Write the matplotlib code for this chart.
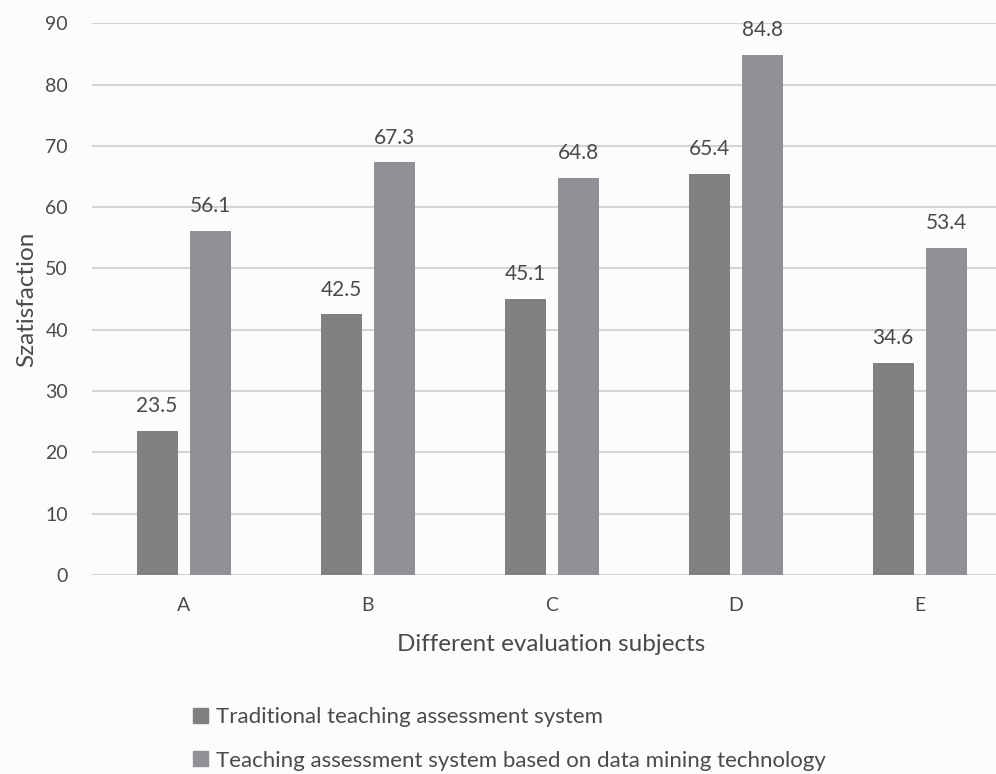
import numpy as np
import matplotlib.pyplot as plt
from matplotlib.patches import Patch

plt.rcParams['font.family'] = ['Lato', 'DejaVu Sans']

# Satisfaction scores per evaluation subject
subjects = ['A', 'B', 'C', 'D', 'E']
traditional = [23.5, 42.5, 45.1, 65.4, 34.6]
data_mining = [56.1, 67.3, 64.8, 84.8, 53.4]
series_names = ['Traditional teaching assessment system',
                'Teaching assessment system based on data mining technology']

c_trad = '#808083'
c_dm = '#909194'
text_c = '#4a4a4a'
grid_c = '#d4d4d4'

fig = plt.figure(figsize=(9.96, 7.74), dpi=100, facecolor='#fcfcfc')
# the plot area runs past the right edge, gridlines get cut by the figure border
ax = fig.add_axes([0.0919, 0.257, 0.9237, 0.713])
ax.set_facecolor('#fcfcfc')

x = np.arange(len(subjects))
w = 0.223
off = 0.144
b1 = ax.bar(x - off, traditional, w, color=c_trad, zorder=3)
b2 = ax.bar(x + off, data_mining, w, color=c_dm, zorder=3)

for bars, vals in ((b1, traditional), (b2, data_mining)):
    for rect, v in zip(bars, vals):
        ax.text(rect.get_x() + rect.get_width() / 2, v + 2.4, f'{v:.1f}',
                ha='center', va='bottom', fontsize=15, color=text_c)

ax.set_xlim(-0.5, len(subjects) - 0.5)
ax.set_ylim(0, 90)
ax.set_yticks(np.arange(0, 91, 10))
ax.set_xticks(x)
ax.set_xticklabels(subjects)
ax.tick_params(axis='both', length=0, labelsize=14, colors=text_c)
ax.tick_params(axis='x', pad=16)
ax.tick_params(axis='y', pad=17)
ax.grid(axis='y', color=grid_c, linewidth=1.5, zorder=0)
for s in ax.spines.values():
    s.set_visible(False)

ax.set_xlabel('Different evaluation subjects', fontsize=17.5, color=text_c, labelpad=14)
ax.set_ylabel('Szatisfaction', fontsize=17.5, color=text_c, labelpad=6)

handles = [Patch(color=c_trad), Patch(color=c_dm)]
fig.legend(handles, series_names, loc='upper left', bbox_to_anchor=(0.174, 0.112),
           frameon=False, fontsize=16, labelcolor=text_c, handlelength=0.65,
           handleheight=0.65, handletextpad=0.35, labelspacing=1.05)

fig.savefig('out.png', dpi=100, facecolor=fig.get_facecolor())
